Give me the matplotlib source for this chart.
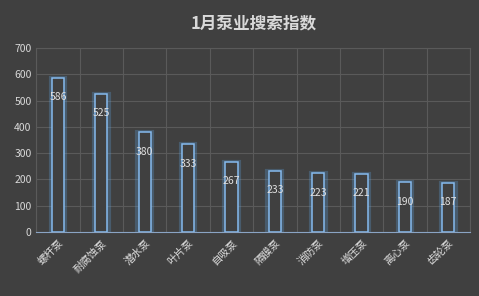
import matplotlib.pyplot as plt
from matplotlib.ticker import MultipleLocator

plt.rcParams['font.family'] = ['Noto Sans CJK SC', 'DejaVu Sans']

pumps = ["螺杆泵", "耐腐蚀泵", "潜水泵", "叶片泵", "自吸泵", "隔膜泵", "消防泵", "增压泵", "离心泵", "齿轮泵"]
index = [586, 525, 380, 333, 267, 233, 223, 221, 190, 187]

bg = "#404040"
fig = plt.figure(figsize=(4.79, 2.96), dpi=100, facecolor=bg)
ax = fig.add_axes([0.076, 0.216, 0.905, 0.622], facecolor=bg)

x = range(len(pumps))
# glow behind the bars
ax.bar(x, index, width=0.34, color="none", edgecolor="#5b9bd5", linewidth=3, alpha=0.3, zorder=2)
ax.bar(x, index, width=0.28, color=bg, edgecolor="#86bbef", linewidth=1.1, zorder=3)

for i, v in enumerate(index):
    ax.annotate(str(v), (i, v), xytext=(0, -14), textcoords="offset points",
                ha="center", va="center", color="#e0e0e0", fontsize=7.5, zorder=4)

ax.set_xlim(-0.5, len(pumps) - 0.5)
ax.set_ylim(0, 700)
ax.yaxis.set_major_locator(MultipleLocator(100))
ax.set_xticks(list(x))
ax.set_xticklabels(pumps, rotation=45, ha="right", rotation_mode="anchor", fontsize=7.5, color="#e0e0e0")
ax.set_xticks([i - 0.5 for i in range(len(pumps) + 1)], minor=True)
ax.tick_params(axis="y", labelsize=7.5, colors="#d9d9d9", length=0)
ax.tick_params(axis="x", which="both", length=0, pad=4)
ax.grid(axis="y", color="#5a5a5a", linewidth=0.8)
ax.grid(axis="x", which="minor", color="#5a5a5a", linewidth=0.8)
ax.set_axisbelow(True)
for s in ax.spines.values():
    s.set_color("#5a5a5a")
ax.spines["bottom"].set_color("#8aa4c4")

fig.suptitle("1月泵业搜索指数", x=0.53, y=0.95, fontsize=12, fontweight="bold", color="#d9d9d9")
fig.savefig("out.png", facecolor=bg)
